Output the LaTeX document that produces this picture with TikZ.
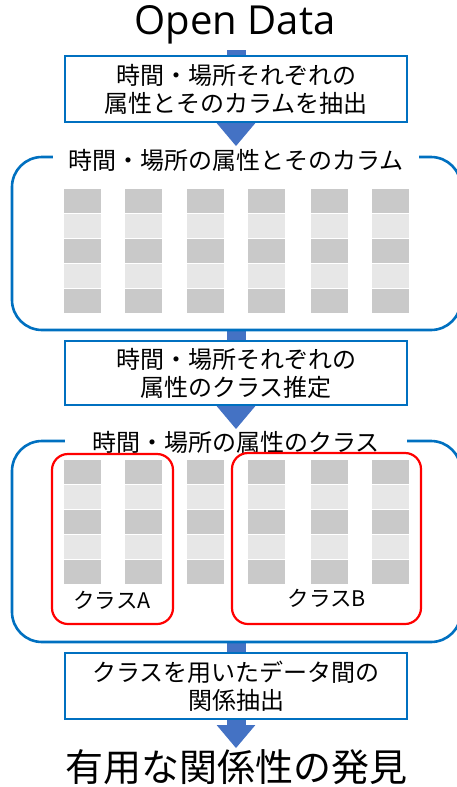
\documentclass[tikz,border=0pt]{standalone}
\usepackage{fontspec}
\setmainfont{Noto Sans CJK JP}
\newfontfamily\latinfont{Open Sans}
\usetikzlibrary{arrows.meta,backgrounds}
\definecolor{boxblue}{RGB}{0,112,192}
\definecolor{arrowblue}{RGB}{68,114,196}
\definecolor{darkcell}{RGB}{201,201,201}
\definecolor{lightcell}{RGB}{231,231,231}
\definecolor{classred}{RGB}{255,0,0}
\tikzset{
  procbox/.style={draw=boxblue, line width=2.3pt, fill=white, minimum width=342pt, align=center, inner sep=0pt,
    font=\fontsize{24}{28}\selectfont},
  groupbox/.style={draw=boxblue, line width=2.6pt, rounded corners=30pt},
  grouptitle/.style={fill=white, inner ysep=2pt, font=\fontsize{24}{28}\selectfont},
  classbox/.style={draw=classred, line width=2.2pt, rounded corners=16pt},
  classlabel/.style={font=\fontsize{21.5}{24}\selectfont, inner sep=0pt},
  blockarrow/.style={draw=arrowblue, line width=19pt, -{Triangle[length=23pt,width=37pt]}},
  darkc/.style={fill=darkcell, draw=white, line width=1pt},
  lightc/.style={fill=lightcell, draw=white, line width=1pt},
}
\begin{document}
\begin{tikzpicture}[x=1pt,y=-1pt]
\useasboundingbox (0,0) rectangle (457,787);

% title
\node[inner sep=0pt, font=\latinfont\fontsize{40}{46}\selectfont] (open) at (235,25) {Open Data};
\coordinate (a1start) at (236,50);

% group boxes
\draw[groupbox] (12,157) rectangle (461,330);
\node[grouptitle, inner xsep=16pt] (g1title) at (236,160) {時間・場所の属性とそのカラム};
\draw[groupbox] (12,441) rectangle (461,642);
\node[grouptitle, inner xsep=27pt] (g2title) at (236,442) {時間・場所の属性のクラス};

% grids
\foreach \x in {63,124,186,247,310,371}{
  \foreach \r/\s in {0/darkc,1/lightc,2/darkc,3/lightc,4/darkc}{
    \path[\s] (\x,188+\r*25) rectangle (\x+38.5,188+\r*25+25);
    \path[\s] (\x,459+\r*25) rectangle (\x+38.5,459+\r*25+25);
  }
}

% class boxes
\draw[classbox] (52,454) rectangle (173,624);
\draw[classbox] (232,453) rectangle (421,624);
\node[classlabel] (clA) at (112,600) {クラスA};
\node[classlabel] (clB) at (327,598) {クラスB};

% process boxes
\node[procbox, minimum height=66pt] (box1) at (236,89) {時間・場所それぞれの\\属性とそのカラムを抽出};
\node[procbox, minimum height=64pt] (box2) at (236,373) {時間・場所それぞれの\\属性のクラス推定};
\node[procbox, minimum height=66pt] (box3) at (236,686) {クラスを用いたデータ間の\\関係抽出};

\node[inner sep=0pt, font=\fontsize{38}{44}\selectfont] (result) at (236,767) {有用な関係性の発見};

\coordinate (a2start) at (236,330);
\coordinate (a3start) at (236,642);

\begin{scope}[on background layer]
\draw[blockarrow] (a1start) -- ([yshift=-23pt]box1.south);
\draw[blockarrow] (a2start) -- ([yshift=-23pt]box2.south);
\draw[blockarrow] (a3start) -- ([yshift=-28pt]box3.south);
\end{scope}
\end{tikzpicture}
\end{document}
